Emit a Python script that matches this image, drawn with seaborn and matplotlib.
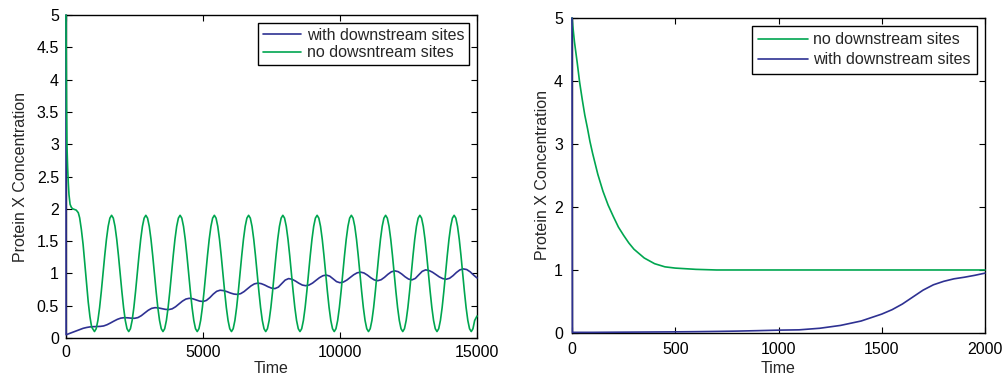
import matplotlib
matplotlib.use("Agg")
from matplotlib import pyplot as plt
import seaborn as sns

BLUE = "#2E3192"
GREEN = "#00A650"

# ---- left panel: oscillating case (Time 0..15000) ----
left_blue_t = [0, 5] + list(range(125, 15001, 125))
left_blue = [5.0, 0.05,
             0.07, 0.09, 0.11, 0.13, 0.15, 0.163, 0.172, 0.176, 0.178, 0.18,
             0.187, 0.206, 0.233, 0.262, 0.289, 0.308, 0.315,
             0.313, 0.308, 0.305,
             0.316, 0.346, 0.388, 0.429, 0.459, 0.47,
             0.466, 0.455, 0.444, 0.44,
             0.452, 0.484, 0.528, 0.571, 0.603, 0.615,
             0.608, 0.59, 0.572, 0.565,
             0.582, 0.625, 0.68, 0.723, 0.74,
             0.734, 0.718, 0.697, 0.681, 0.675,
             0.687, 0.719, 0.763, 0.806, 0.838, 0.85,
             0.842, 0.821, 0.794, 0.773, 0.765,
             0.788, 0.843, 0.897, 0.92,
             0.91, 0.882, 0.848, 0.82, 0.81,
             0.821, 0.851, 0.893, 0.934, 0.964, 0.975,
             0.958, 0.916, 0.873, 0.856,
             0.867, 0.897, 0.938, 0.979, 1.009, 1.02,
             1.007, 0.974, 0.933, 0.9, 0.887,
             0.902, 0.94, 0.987, 1.025, 1.04,
             1.027, 0.992, 0.948, 0.913, 0.9,
             0.923, 0.978, 1.032, 1.055,
             1.045, 1.019, 0.983, 0.946, 0.92, 0.91,
             0.925, 0.965, 1.015, 1.055, 1.07,
             1.06, 1.025, 0.975, 0.93]

# green: fast drop, plateau at 2, then 11 full oscillations (one row per period)
left_green_t = ([0, 10, 20, 35, 60, 85, 110, 150, 200, 250, 375, 450, 500, 562, 625, 687,
                 750, 812, 875, 937]
                + [1040 + 62.5 * k for k in range(223)] + [15000])
left_green = [5.0, 4.2, 3.6, 3.0, 2.65, 2.4, 2.22, 2.07, 2.02, 2.0, 1.98, 1.94, 1.86, 1.68,
              1.45, 1.15, 0.85, 0.56, 0.33, 0.17,
              0.1,
              0.144, 0.272, 0.471, 0.722, 1.0, 1.278, 1.529, 1.728, 1.856, 1.9,
              1.856, 1.728, 1.529, 1.278, 1.0, 0.722, 0.471, 0.272, 0.144, 0.1,
              0.144, 0.272, 0.471, 0.722, 1.0, 1.278, 1.529, 1.728, 1.856, 1.9,
              1.856, 1.728, 1.529, 1.278, 1.0, 0.722, 0.471, 0.272, 0.144, 0.1,
              0.144, 0.272, 0.471, 0.722, 1.0, 1.278, 1.529, 1.728, 1.856, 1.9,
              1.856, 1.728, 1.529, 1.278, 1.0, 0.722, 0.471, 0.272, 0.144, 0.1,
              0.144, 0.272, 0.471, 0.722, 1.0, 1.278, 1.529, 1.728, 1.856, 1.9,
              1.856, 1.728, 1.529, 1.278, 1.0, 0.722, 0.471, 0.272, 0.144, 0.1,
              0.144, 0.272, 0.471, 0.722, 1.0, 1.278, 1.529, 1.728, 1.856, 1.9,
              1.856, 1.728, 1.529, 1.278, 1.0, 0.722, 0.471, 0.272, 0.144, 0.1,
              0.144, 0.272, 0.471, 0.722, 1.0, 1.278, 1.529, 1.728, 1.856, 1.9,
              1.856, 1.728, 1.529, 1.278, 1.0, 0.722, 0.471, 0.272, 0.144, 0.1,
              0.144, 0.272, 0.471, 0.722, 1.0, 1.278, 1.529, 1.728, 1.856, 1.9,
              1.856, 1.728, 1.529, 1.278, 1.0, 0.722, 0.471, 0.272, 0.144, 0.1,
              0.144, 0.272, 0.471, 0.722, 1.0, 1.278, 1.529, 1.728, 1.856, 1.9,
              1.856, 1.728, 1.529, 1.278, 1.0, 0.722, 0.471, 0.272, 0.144, 0.1,
              0.144, 0.272, 0.471, 0.722, 1.0, 1.278, 1.529, 1.728, 1.856, 1.9,
              1.856, 1.728, 1.529, 1.278, 1.0, 0.722, 0.471, 0.272, 0.144, 0.1,
              0.144, 0.272, 0.471, 0.722, 1.0, 1.278, 1.529, 1.728, 1.856, 1.9,
              1.856, 1.728, 1.529, 1.278, 1.0, 0.722, 0.471, 0.272, 0.144, 0.1,
              0.144, 0.272, 0.471, 0.722, 1.0, 1.278, 1.529, 1.728, 1.856, 1.9,
              1.856, 1.728, 1.529, 1.278, 1.0, 0.722, 0.471, 0.272, 0.144, 0.1,
              0.144, 0.272,
              0.34]

left_xticks = [0, 5000, 10000, 15000]
left_xlabels = ["0", "5000", "10000", "15000"]
left_yticks = [0, 0.5, 1, 1.5, 2, 2.5, 3, 3.5, 4, 4.5, 5]
left_ylabels = ["0", "0.5", "1", "1.5", "2", "2.5", "3", "3.5", "4", "4.5", "5"]

# ---- right panel: steady case (Time 0..2000) ----
right_green_t = [0, 12, 25, 37, 50, 62, 75, 87, 100, 125, 150, 175, 200, 225, 250, 275, 300,
                 350, 400, 450, 500, 600, 700, 800, 1000, 1500, 2000]
right_green = [5.0, 4.62, 4.3, 3.98, 3.7, 3.46, 3.25, 3.04, 2.85, 2.52, 2.25, 2.03, 1.85,
               1.68, 1.55, 1.43, 1.33, 1.19, 1.1, 1.05, 1.03, 1.01, 1.0, 1.0, 1.0, 1.0, 1.0]

right_blue_t = [0, 2, 100, 200, 300, 400, 500, 600, 700, 800, 900, 1000, 1100, 1200, 1300,
                1400, 1450, 1500, 1550, 1600, 1650, 1700, 1750, 1800, 1850, 1900, 1950, 2000]
right_blue = [5.0, 0.01, 0.01, 0.012, 0.014, 0.016, 0.018, 0.021, 0.025, 0.03, 0.037, 0.045,
              0.05, 0.075, 0.12, 0.19, 0.245, 0.3, 0.37, 0.46, 0.57, 0.68, 0.765, 0.82, 0.86,
              0.885, 0.915, 0.95]

right_xticks = [0, 500, 1000, 1500, 2000]
right_xlabels = ["0", "500", "1000", "1500", "2000"]
right_yticks = [0, 1, 2, 3, 4, 5]
right_ylabels = ["0", "1", "2", "3", "4", "5"]

FS = 11.5


def draw(ax, t, y, color, label):
    sns.lineplot(x=t, y=y, color=color, label=label, ax=ax, lw=1.2,
                 estimator=None, zorder=3, clip_on=False)


def style_axes(ax, xticks, xlabels, yticks, ylabels, xmax, ylabelpad, xlabelpad, pad, leg_kw):
    ax.set_xlim(0, xmax)
    ax.set_ylim(0, 5)
    ax.set_xticks(xticks)
    ax.set_xticklabels(xlabels)
    ax.set_yticks(yticks)
    ax.set_yticklabels(ylabels)
    ax.tick_params(direction="in", top=True, right=True, length=4, width=0.8,
                   labelsize=FS, pad=pad, colors="black")
    for s in ax.spines.values():
        s.set_visible(True)
        s.set_linewidth(1.0)
        s.set_color("black")
    ax.set_xlabel("Time", fontsize=FS, labelpad=xlabelpad)
    ax.set_ylabel("Protein X Concentration", fontsize=FS, labelpad=ylabelpad)
    leg = ax.legend(loc="upper right", frameon=True, fancybox=False, edgecolor="black",
                    framealpha=1, fontsize=FS, handletextpad=0.35, borderaxespad=0.5,
                    **leg_kw)
    leg.get_frame().set_linewidth(1.0)


def main():
    sns.set_style("ticks")
    plt.rcParams["font.family"] = ["Liberation Sans", "DejaVu Sans"]

    fig = plt.figure(figsize=(10.04, 3.76), dpi=100)
    ax1 = fig.add_axes([0.0657, 0.101, 0.4094, 0.859])
    ax2 = fig.add_axes([0.5697, 0.1144, 0.4114, 0.8378])

    draw(ax1, left_blue_t, left_blue, BLUE, "with downstream sites")
    draw(ax1, left_green_t, left_green, GREEN, "no dowsntream sites")
    style_axes(ax1, left_xticks, left_xlabels, left_yticks, left_ylabels, 15000, 6, 1, 5,
               dict(handlelength=2.4, labelspacing=0.15, borderpad=0.3))

    draw(ax2, right_green_t, right_green, GREEN, "no downstream sites")
    draw(ax2, right_blue_t, right_blue, BLUE, "with downstream sites")
    style_axes(ax2, right_xticks, right_xlabels, right_yticks, right_ylabels, 2000, 3, 3, 6.5,
               dict(handlelength=3.1, labelspacing=0.3, borderpad=0.4))

    fig.savefig("out.png", dpi=100)


if __name__ == "__main__":
    main()
